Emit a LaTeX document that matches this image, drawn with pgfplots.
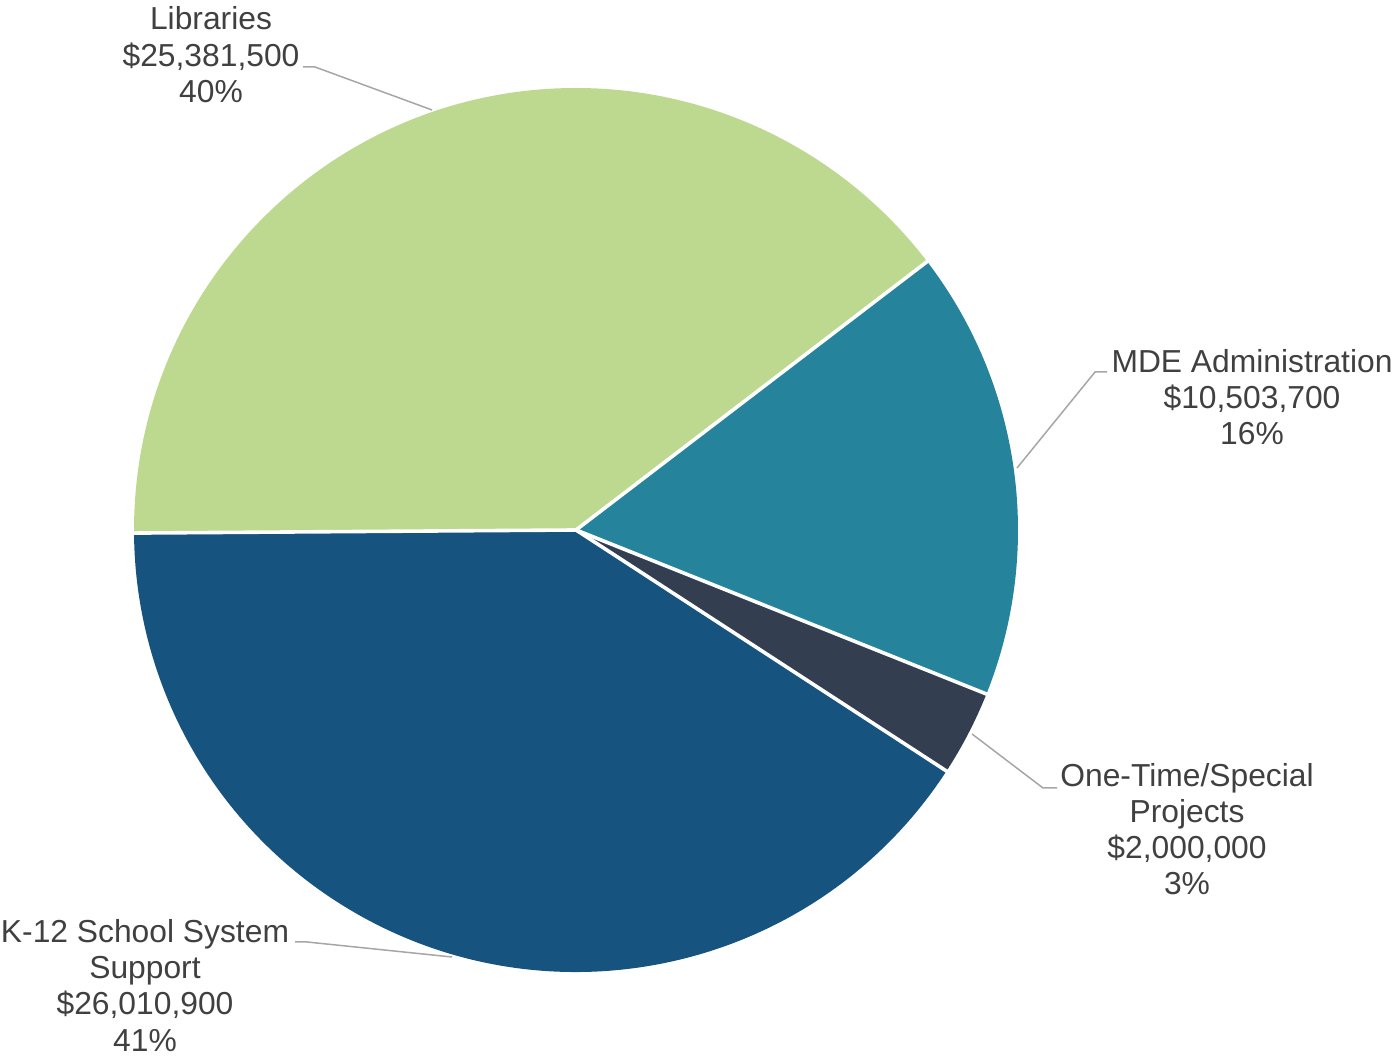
\documentclass[border=0pt]{standalone}
\usepackage{pgfplots}
\pgfplotsset{compat=1.18}
\usepackage{pgfplotstable}
\usepackage{fontspec}
\setmainfont{Liberation Sans}

\definecolor{libgreen}{HTML}{BCD98F}
\definecolor{mdeteal}{HTML}{25849C}
\definecolor{onedark}{HTML}{333F50}
\definecolor{kblue}{HTML}{16537E}
\definecolor{txtgray}{HTML}{404040}
\definecolor{leadgray}{HTML}{A6A6A6}

% budget by program, in dollars
\pgfplotstableread{
name value
Libraries 25381500
MDE 10503700
OneTime 2000000
K12 26010900
}\budget

\pgfplotstablegetelem{0}{value}\of\budget \let\vA\pgfplotsretval
\pgfplotstablegetelem{1}{value}\of\budget \let\vB\pgfplotsretval
\pgfplotstablegetelem{2}{value}\of\budget \let\vC\pgfplotsretval
\pgfplotstablegetelem{3}{value}\of\budget \let\vD\pgfplotsretval
\edef\total{\fpeval{\vA+\vB+\vC+\vD}}
% slices run clockwise from the left
\def\aA{180.4}
\edef\aB{\fpeval{\aA-360*\vA/\total}}
\edef\aC{\fpeval{\aB-360*\vB/\total}}
\edef\aD{\fpeval{\aC-360*\vC/\total}}
\edef\aE{\fpeval{\aD-360*\vD/\total}}

\newcommand\slice[3]{%
  \fill[#1] (axis cs:576,527) -- ++(#2:221pt)
    arc[start angle=#2, end angle=#3, radius=221pt] -- cycle;}
\newcommand\edge[1]{%
  \draw[white, line width=1.8pt] (axis cs:576,527) -- ++(#1:221.5pt);}
\newcommand\lbl[3]{%
  \node[anchor=base, inner sep=0, text=txtgray,
        font=\fontsize{15.9}{18}\selectfont] at (axis cs:#1,#2) {#3};}

\begin{document}
\begin{tikzpicture}
\begin{axis}[
    scale only axis,
    width=697.5pt, height=528.5pt,
    xmin=0, xmax=1395, ymin=0, ymax=1057,
    hide axis, clip=false,
]
  \path (axis cs:0,0) rectangle (axis cs:1395,1057);

  \slice{libgreen}{\aA}{\aB}
  \slice{mdeteal}{\aB}{\aC}
  \slice{onedark}{\aC}{\aD}
  \slice{kblue}{\aD}{\aE}
  \edge{\aA}
  \edge{\aB}
  \edge{\aC}
  \edge{\aD}

  % leader lines
  \draw[leadgray, line width=0.75pt] (axis cs:303,990) -- (axis cs:315,990) -- (axis cs:432,947);
  \draw[leadgray, line width=0.75pt] (axis cs:1107,685) -- (axis cs:1095,685) -- (axis cs:1017,589);
  \draw[leadgray, line width=0.75pt] (axis cs:972,323) -- (axis cs:1043,269) -- (axis cs:1057,269);
  \draw[leadgray, line width=0.75pt] (axis cs:295,115) -- (axis cs:307,115) -- (axis cs:452,100);

  % labels
  \lbl{211}{1027}{Libraries}
  \lbl{211}{990}{\$25,381,500}
  \lbl{211}{954}{40\%}

  \lbl{1252}{684}{MDE Administration}
  \lbl{1252}{648}{\$10,503,700}
  \lbl{1252}{612}{16\%}

  \lbl{1187}{270}{One-Time/Special}
  \lbl{1187}{234}{Projects}
  \lbl{1187}{198}{\$2,000,000}
  \lbl{1187}{162}{3\%}

  \lbl{145}{114}{K-12 School System}
  \lbl{145}{78}{Support}
  \lbl{145}{42}{\$26,010,900}
  \lbl{145}{5}{41\%}
\end{axis}
\end{tikzpicture}
\end{document}
